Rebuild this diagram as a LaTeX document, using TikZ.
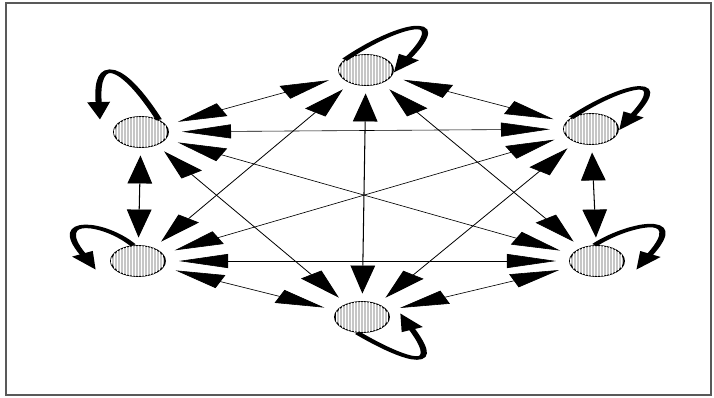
\documentclass[tikz,border=0pt]{standalone}
\usetikzlibrary{arrows.meta,patterns}
\begin{document}
\begin{tikzpicture}[x=1pt,y=-1pt]
\useasboundingbox (0,0) rectangle (714,397);
\draw[line width=1.2pt, black!65] (6,3) rectangle (711,395);
\begin{scope}[transform canvas={xscale=1.75}, x=0.571429pt,
  state/.style={circle, draw=black, line width=0.9pt, minimum size=31pt, inner sep=0pt, fill=gray!45, postaction={pattern=vertical lines, pattern color=white}},
  link/.style={line width=0.6pt, shorten <=7.5pt, shorten >=7.5pt, {Triangle[length=28pt,width=14pt]}-{Triangle[length=28pt,width=14pt]}},
  loopline/.style={line width=3.5pt, -{Triangle[length=18pt,width=12pt]}}]
  \node[state] (T)  at (366,70)  {};
  \node[state] (UL) at (141,132) {};
  \node[state] (UR) at (591,129) {};
  \node[state] (LL) at (138,261) {};
  \node[state] (LR) at (597,261) {};
  \node[state] (B)  at (362,317) {};
  % edges
  \draw[link] (T) -- (UL);
  \draw[link] (T) -- (UR);
  \draw[link] (T) -- (LL);
  \draw[link] (T) -- (LR);
  \draw[link] (T) -- (B);
  \draw[link] (UL) -- (UR);
  \draw[link] (UL) -- (LL);
  \draw[link] (UL) -- (LR);
  \draw[link] (UL) -- (B);
  \draw[link] (UR) -- (LL);
  \draw[link] (UR) -- (LR);
  \draw[link] (UR) -- (B);
  \draw[link] (LL) -- (LR);
  \draw[link] (LL) -- (B);
  \draw[link] (LR) -- (B);
  % loops
  \coordinate (ulend) at (100,120);
  \coordinate (llend) at (96,270);
  \coordinate (lrend) at (636,270);
  \coordinate (bend) at (400,313);
  \draw[loopline] (T.140) .. controls (395,25) and (455,10) .. (T.-10);
  \draw[loopline] (UL.50) .. controls (122,62) and (95,55) .. (ulend);
  \draw[loopline] (UR.135) .. controls (615,88) and (675,70) .. (UR.-5);
  \draw[loopline] (LL.100) .. controls (105,222) and (50,215) .. (llend);
  \draw[loopline] (LR.95) .. controls (625,225) and (690,210) .. (lrend);
  \draw[loopline] (B.260) .. controls (395,355) and (448,378) .. (bend);
\end{scope}
\end{tikzpicture}
\end{document}
